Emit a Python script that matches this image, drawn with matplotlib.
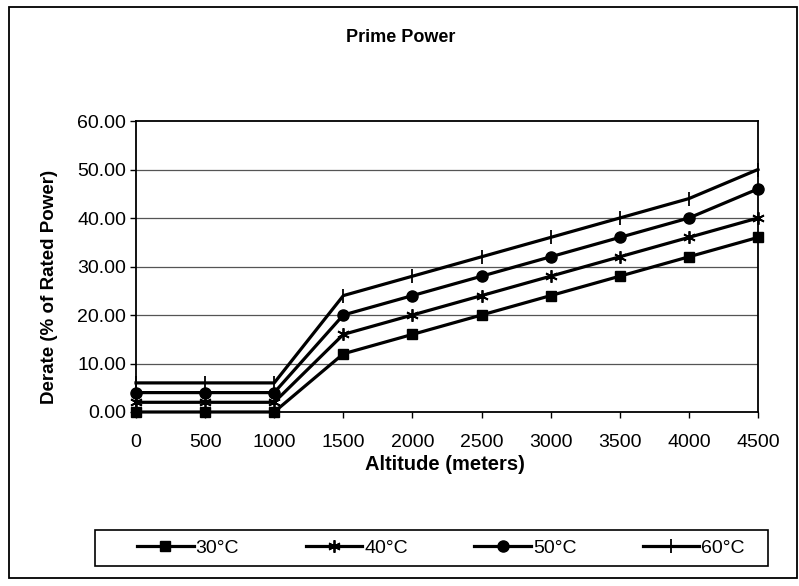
import matplotlib
matplotlib.use("Agg")
import matplotlib.pyplot as plt
from matplotlib.patches import Rectangle

plt.rcParams['font.family'] = ['Liberation Sans', 'DejaVu Sans']

altitude = [0, 500, 1000, 1500, 2000, 2500, 3000, 3500, 4000, 4500]
derate_30 = [0, 0, 0, 12, 16, 20, 24, 28, 32, 36]
derate_40 = [2, 2, 2, 16, 20, 24, 28, 32, 36, 40]
derate_50 = [4, 4, 4, 20, 24, 28, 32, 36, 40, 46]
derate_60 = [6, 6, 6, 24, 28, 32, 36, 40, 44, 50]
series_labels = ['30°C', '40°C', '50°C', '60°C']
y_ticks = [0, 10, 20, 30, 40, 50, 60]

W, H = 799, 586
fig = plt.figure(figsize=(W / 100, H / 100), dpi=100)
fig.patch.set_facecolor('white')

L, R, T, B = 136, 758, 121, 412
ax = fig.add_axes([L / W, 1 - B / H, (R - L) / W, (B - T) / H])

styles = [
    dict(marker='s', markersize=7.5),
    dict(marker=(6, 2, 0), markersize=9, markeredgewidth=1.3),
    dict(marker='o', markersize=8),
    dict(marker='|', markersize=10, markeredgewidth=1.3),
]
for vals, lab, st in zip([derate_30, derate_40, derate_50, derate_60], series_labels, styles):
    ax.plot(altitude, vals, color='black', lw=2.3, label=lab,
            markerfacecolor='black', markeredgecolor='black', clip_on=False, **st)

ax.set_xlim(0, 4500)
ax.set_ylim(0, 60)
ax.set_xticks(altitude)
ax.set_xticklabels([str(a) for a in altitude])
ax.set_yticks(y_ticks)
ax.set_yticklabels([f'{v:.2f}' for v in y_ticks])
ax.tick_params(axis='both', direction='out', length=4, width=1, labelsize=14,
               colors='black')
ax.tick_params(axis='y', pad=3)
ax.tick_params(axis='x', pad=12)
for y in y_ticks[1:-1]:
    ax.axhline(y, color='#555555', lw=0.9, zorder=0)
for s in ax.spines.values():
    s.set_linewidth(1.3)
    s.set_color('black')

fig.text(445 / W, 1 - 465 / H, 'Altitude (meters)', ha='center', va='center',
         fontsize=14.5, fontweight='bold')
fig.text(50 / W, 1 - 287 / H, 'Derate (% of Rated Power)', ha='center', va='center',
         rotation=90, fontsize=13.5, fontweight='bold')
fig.text(401 / W, 1 - 38 / H, 'Prime Power', ha='center', va='center',
         fontsize=13, fontweight='bold')

handles, labels = ax.get_legend_handles_labels()
leg = fig.legend(handles, labels, loc='center', ncol=4,
                 bbox_to_anchor=(441 / W, 1 - 548 / H),
                 frameon=False, fontsize=14,
                 handlelength=2.9, handletextpad=0.1, columnspacing=3.43,
                 borderpad=0, borderaxespad=0)

fig.patches.append(Rectangle((95 / W, 1 - 566 / H), (768 - 95) / W, 36 / H,
                             transform=fig.transFigure, fill=False,
                             edgecolor='black', lw=1.2))
fig.patches.append(Rectangle((9 / W, 1 - 578 / H), (797 - 9) / W, (578 - 7) / H,
                             transform=fig.transFigure, fill=False,
                             edgecolor='black', lw=1.3))

fig.savefig('out.png', dpi=100, facecolor='white')
